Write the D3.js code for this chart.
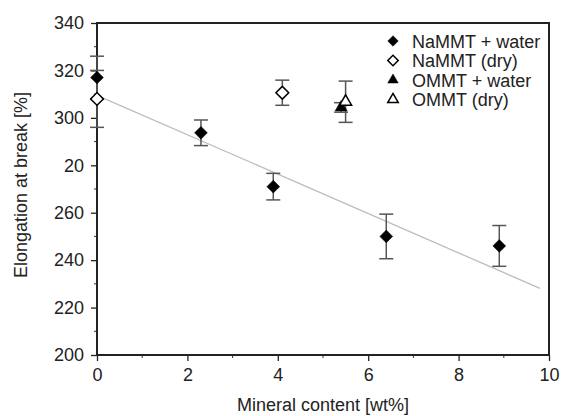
<!DOCTYPE html>
<html>
<head>
<meta charset="utf-8">
<script src="https://cdn.jsdelivr.net/npm/d3@7"></script>
<style>
  body { margin: 0; background: #fff; }
  text { font-family: "Liberation Sans", Arial, sans-serif; fill: #222; }
</style>
</head>
<body>
<div id="chart"></div>
<script>
// Data
var naWaterX = [0, 2.3, 3.9, 6.4, 8.9];
var naWaterY = [317, 293.7, 271, 250, 246];
var naWaterErr = [9, 5.4, 5.6, 9.4, 8.6];

var naDryX = [0, 4.1];
var naDryY = [308, 310.6];
var naDryErr = [12, 5.3];

var omWaterX = [5.4];
var omWaterY = [304.4];
var omWaterErr = [2];

var omDryX = [5.5];
var omDryY = [306.8];
var omDryErr = [8.7];

var trendX = [0, 9.8];
var trendY = [309.5, 228.1];

var xTicks = [0, 2, 4, 6, 8, 10];
var yTicks = [200, 220, 240, 260, 280, 300, 320, 340];
var yTickLabels = ["200", "220", "240", "260", "20", "300", "320", "340"];

var legendLabels = ["NaMMT + water", "NaMMT (dry)", "OMMT + water", "OMMT (dry)"];

// SVG parameter
var svgWidth = 563;
var svgHeight = 416;
var margin = { top: 23, right: 14, bottom: 61, left: 97 };
var chartWidth = svgWidth - margin.left - margin.right;
var chartHeight = svgHeight - margin.top - margin.bottom;

var svg = d3.select("#chart").append("svg")
    .attr("width", svgWidth)
    .attr("height", svgHeight);

var chartGroup = svg.append("g")
    .attr("transform", `translate(${margin.left}, ${margin.top})`);

var x = d3.scaleLinear().domain([0, 10]).range([0, chartWidth]);
var y = d3.scaleLinear().domain([200, 340]).range([chartHeight, 0]);

// minor ticks
var xMinor = d3.range(1, 10, 2);
var yMinor = d3.range(210, 340, 20);
chartGroup.append("g").selectAll("line").data(xMinor).join("line")
    .attr("x1", d => x(d)).attr("x2", d => x(d))
    .attr("y1", chartHeight).attr("y2", chartHeight + 3)
    .attr("stroke", "#333").attr("stroke-width", 1);
chartGroup.append("g").selectAll("line").data(yMinor).join("line")
    .attr("y1", d => y(d)).attr("y2", d => y(d))
    .attr("x1", 0).attr("x2", -3)
    .attr("stroke", "#333").attr("stroke-width", 1);

// Axes
var bottomAxis = d3.axisBottom(x).tickValues(xTicks).tickSize(6).tickPadding(7).tickFormat(d3.format("d"));
var leftAxis = d3.axisLeft(y).tickValues(yTicks).tickSize(6).tickPadding(7)
    .tickFormat((d, i) => yTickLabels[i]);

var xAxis = chartGroup.append("g")
    .attr("transform", `translate(0, ${chartHeight})`)
    .call(bottomAxis);
var yAxis = chartGroup.append("g").call(leftAxis);

[xAxis, yAxis].forEach(a => {
    a.select(".domain").remove();
    a.selectAll(".tick line").attr("stroke", "#222").attr("stroke-width", 1.3);
    a.selectAll(".tick text").style("font-size", "18px").attr("fill", "#222")
        .style("font-family", "'Liberation Sans', Arial, sans-serif");
});

// frame
chartGroup.append("rect")
    .attr("x", 0).attr("y", 0)
    .attr("width", chartWidth).attr("height", chartHeight)
    .attr("fill", "none").attr("stroke", "#222").attr("stroke-width", 2);

// Trend line
var line = d3.line().x(d => x(d[0])).y(d => y(d[1]));
chartGroup.append("path")
    .datum(d3.zip(trendX, trendY))
    .attr("d", line)
    .attr("fill", "none").attr("stroke", "#bdbdbd").attr("stroke-width", 1.3);

// Error bars
function errorBars(xs, ys, errs) {
    var g = chartGroup.append("g").attr("stroke", "#555").attr("stroke-width", 1.5);
    var pts = d3.zip(xs, ys, errs);
    g.selectAll(".v").data(pts).join("line")
        .attr("x1", d => x(d[0])).attr("x2", d => x(d[0]))
        .attr("y1", d => y(d[1] - d[2])).attr("y2", d => y(d[1] + d[2]));
    g.selectAll(".c1").data(pts).join("line")
        .attr("x1", d => x(d[0]) - 7).attr("x2", d => x(d[0]) + 7)
        .attr("y1", d => y(d[1] + d[2])).attr("y2", d => y(d[1] + d[2]));
    g.selectAll(".c2").data(pts).join("line")
        .attr("x1", d => x(d[0]) - 7).attr("x2", d => x(d[0]) + 7)
        .attr("y1", d => y(d[1] - d[2])).attr("y2", d => y(d[1] - d[2]));
}
errorBars(naWaterX, naWaterY, naWaterErr);
errorBars(naDryX, naDryY, naDryErr);
errorBars(omWaterX, omWaterY, omWaterErr);
errorBars(omDryX, omDryY, omDryErr);

// square diamond: a square turned 45 degrees
var diamond = d3.symbol().type(d3.symbolSquare).size(82);
var triangle = d3.symbol().type(d3.symbolTriangle).size(62);

function points(xs, ys, sym, rot, filled) {
    chartGroup.append("g").selectAll("path").data(d3.zip(xs, ys)).join("path")
        .attr("transform", d => `translate(${x(d[0])}, ${y(d[1])}) rotate(${rot})`)
        .attr("d", sym)
        .attr("fill", filled ? "#000" : "#fff")
        .attr("stroke", "#000")
        .attr("stroke-width", filled ? 0.5 : 1.5);
}
points(naDryX, naDryY, diamond, 45, false);
points(naWaterX, naWaterY, diamond, 45, true);
points(omWaterX, omWaterY, triangle, 0, true);
points(omDryX, omDryY, triangle, 0, false);

// Legend
var legendSyms = [
    { sym: d3.symbol().type(d3.symbolSquare).size(55), rot: 45, filled: true },
    { sym: d3.symbol().type(d3.symbolSquare).size(55), rot: 45, filled: false },
    { sym: d3.symbol().type(d3.symbolTriangle).size(48), rot: 0, filled: true },
    { sym: d3.symbol().type(d3.symbolTriangle).size(48), rot: 0, filled: false }
];
var legend = svg.append("g").attr("transform", "translate(393, 41)");
var rows = legend.selectAll("g").data(legendLabels).join("g")
    .attr("transform", (d, i) => `translate(0, ${i * 19.5})`);
rows.append("path")
    .attr("d", (d, i) => legendSyms[i].sym())
    .attr("transform", (d, i) => `rotate(${legendSyms[i].rot})`)
    .attr("fill", (d, i) => legendSyms[i].filled ? "#000" : "#fff")
    .attr("stroke", "#000")
    .attr("stroke-width", (d, i) => legendSyms[i].filled ? 0.5 : 1.5);
rows.append("text")
    .attr("x", 19).attr("y", 6.5)
    .style("font-size", "18px")
    .text(d => d);

// Axis titles
svg.append("text")
    .attr("x", margin.left + chartWidth / 2).attr("y", 411)
    .attr("text-anchor", "middle")
    .style("font-size", "18px")
    .text("Mineral content [wt%]");

svg.append("text")
    .attr("transform", `translate(27, ${margin.top + chartHeight / 2 - 4}) rotate(-90)`)
    .attr("text-anchor", "middle")
    .style("font-size", "18px")
    .text("Elongation at break [%]");
</script>
</body>
</html>
